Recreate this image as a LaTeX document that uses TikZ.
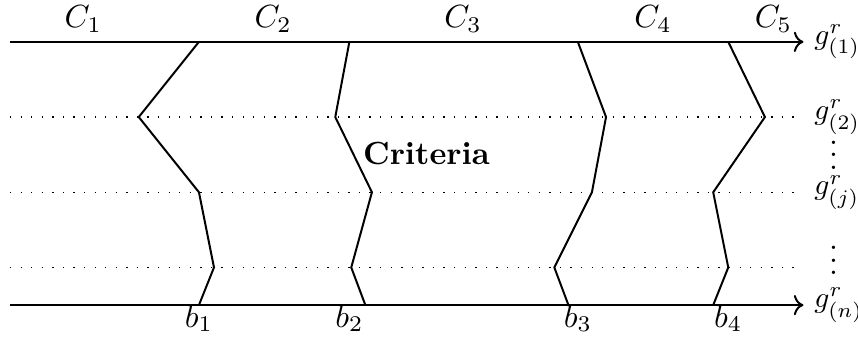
\documentclass[tikz,border=0pt]{standalone}
\usepackage{amsmath}
\usetikzlibrary{arrows.meta}

\begin{document}
\begin{tikzpicture}[
  every node/.style={scale=0.97},
  axis/.style={semithick,->},
  level/.style={dash pattern=on 0.4pt off 2.8pt},
  cut/.style={semithick},
  glabel/.style={anchor=west, inner sep=0pt, scale=0.92}
]
\useasboundingbox (-0.106,-0.383) rectangle (9.02,3.245);

% best and worst levels
\coordinate (t0) at (0,2.8);
\coordinate (t1) at (8.44,2.8);
\coordinate (n0) at (0,0);
\coordinate (n1) at (8.44,0);
\draw[axis] (t0) -- (t1);
\draw[axis] (n0) -- (n1);
\node[glabel] (g1) at (8.55,2.8) {$g^r_{(1)}$};
\node[glabel] (gn) at (8.55,0) {$g^r_{(n)}$};

% intermediate levels
\foreach \y/\n/\t in {2.0/2/$g^r_{(2)}$, 1.2/j/$g^r_{(j)}$, 0.4/k/} {
  \coordinate (l\n) at (0,\y);
  \coordinate (r\n) at (8.37,\y);
  \draw[level] (l\n) -- (r\n);
  \node[glabel] (g\n) at (8.55,\y) {\t};
}
\node[anchor=base, inner sep=0pt] (d1) at (8.76,1.44) {$\vdots$};
\node[anchor=base, inner sep=0pt] (d2) at (8.76,0.32) {$\vdots$};

% category limits
\foreach \k/\a/\b/\c/\d/\e in {1/2.01/1.37/2.01/2.17/2.01,
                              2/3.61/3.46/3.85/3.63/3.78,
                              3/6.04/6.34/6.19/5.79/5.94,
                              4/7.64/8.03/7.48/7.64/7.48} {
  \draw[cut] (\a,2.8) coordinate (p\k) -- (\b,2.0) -- (\c,1.2)
             -- (\d,0.4) -- (\e,0) coordinate (q\k);
  \node[anchor=base] (b\k) at (\a,-0.234) {$b_{\k}$};
}

% categories
\foreach \k/\x in {1/0.78, 2/2.8, 3/4.82, 4/6.84, 5/8.12}
  \node[anchor=base] (c\k) at (\x,2.95) {$C_{\k}$};

\node[anchor=base] (crit) at (4.43,1.49) {\textbf{Criteria}};
\end{tikzpicture}
\end{document}
